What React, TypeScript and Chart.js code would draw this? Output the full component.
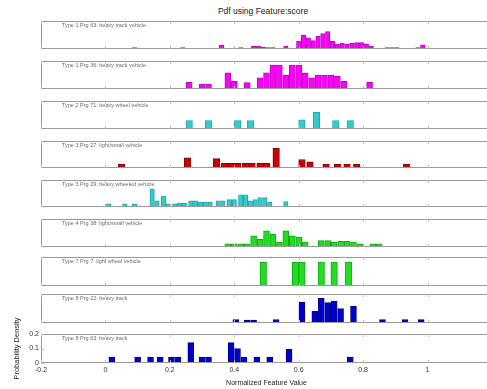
import React, { useEffect, useRef } from "react";
import { Chart, registerables } from "chart.js";
Chart.register(...registerables);

// ---------- data ----------
const TITLE = "Pdf using Feature:score";
const X_LABEL = "Normalized Feature Value";
const Y_LABEL = "Probability Density";
const xTicks = [-0.2, 0, 0.2, 0.4, 0.6, 0.8, 1, 1.2];
const yTicks = [0, 0.1, 0.2];

const panelLabels = [
  "Type 1 Prg 63: heavy track vehicle",
  "Type 1 Prg 36: heavy track vehicle",
  "Type 2 Prg 71: heavy wheel vehicle",
  "Type 3 Prg 27: light/small vehicle",
  "Type 3 Prg 29: heavy wheeled vehicle",
  "Type 4 Prg 38: light/small vehicle",
  "Type 7 Prg 7: light wheel vehicle",
  "Type 8 Prg 22: heavy track",
  "Type 8 Prg 63: heavy track",
];

const binWidths = [0.015, 0.02, 0.022, 0.022, 0.015, 0.02, 0.022, 0.02, 0.02];

const p1X = [0.09, 0.24, 0.36, 0.42, 0.46, 0.475, 0.49, 0.505, 0.52, 0.56, 0.6, 0.615, 0.63, 0.645, 0.66, 0.675, 0.69, 0.705, 0.72, 0.735, 0.75, 0.765, 0.78, 0.795, 0.81, 0.825, 0.875, 0.89, 0.905, 0.97, 0.985];
const p1Y = [0.01, 0.01, 0.028, 0.01, 0.02, 0.02, 0.012, 0.01, 0.01, 0.02, 0.055, 0.1, 0.08, 0.06, 0.09, 0.11, 0.125, 0.055, 0.035, 0.04, 0.035, 0.04, 0.045, 0.045, 0.035, 0.02, 0.01, 0.01, 0.01, 0.01, 0.03];

const p2X = [0.26, 0.3, 0.32, 0.38, 0.4, 0.44, 0.48, 0.5, 0.52, 0.54, 0.56, 0.58, 0.6, 0.62, 0.64, 0.66, 0.68, 0.7, 0.72, 0.74, 0.82];
const p2Y = [0.05, 0.035, 0.035, 0.115, 0.055, 0.045, 0.08, 0.115, 0.17, 0.17, 0.1, 0.17, 0.17, 0.115, 0.08, 0.1, 0.1, 0.1, 0.09, 0.055, 0.05];

const p3X = [0.26, 0.32, 0.41, 0.45, 0.61, 0.655, 0.715, 0.76];
const p3Y = [0.06, 0.06, 0.06, 0.06, 0.065, 0.12, 0.06, 0.06];

const p4X = [0.05, 0.255, 0.345, 0.37, 0.39, 0.41, 0.435, 0.455, 0.48, 0.5, 0.53, 0.61, 0.635, 0.685, 0.72, 0.75, 0.78, 0.935];
const p4Y = [0.028, 0.075, 0.07, 0.035, 0.035, 0.035, 0.035, 0.035, 0.035, 0.035, 0.145, 0.063, 0.045, 0.028, 0.028, 0.028, 0.028, 0.028];

const p5X = [0.01, 0.06, 0.09, 0.145, 0.16, 0.18, 0.195, 0.215, 0.23, 0.245, 0.265, 0.28, 0.295, 0.31, 0.325, 0.35, 0.365, 0.385, 0.4, 0.42, 0.435, 0.45, 0.465, 0.48, 0.495, 0.51, 0.56];
const p5Y = [0.023, 0.023, 0.023, 0.135, 0.045, 0.08, 0.023, 0.023, 0.028, 0.028, 0.045, 0.045, 0.035, 0.035, 0.035, 0.045, 0.045, 0.055, 0.055, 0.09, 0.09, 0.045, 0.055, 0.07, 0.07, 0.035, 0.04];

const p6X = [0.38, 0.4, 0.42, 0.44, 0.46, 0.48, 0.5, 0.52, 0.54, 0.56, 0.58, 0.6, 0.62, 0.67, 0.69, 0.71, 0.73, 0.75, 0.77, 0.79, 0.83, 0.85];
const p6Y = [0.023, 0.023, 0.023, 0.023, 0.08, 0.055, 0.115, 0.09, 0.035, 0.115, 0.08, 0.07, 0.035, 0.045, 0.045, 0.035, 0.04, 0.04, 0.035, 0.023, 0.023, 0.023];

const p7X = [0.49, 0.59, 0.61, 0.67, 0.71, 0.755];
const p7Y = [0.165, 0.165, 0.165, 0.165, 0.165, 0.165];

const p8X = [0.405, 0.44, 0.46, 0.53, 0.61, 0.65, 0.67, 0.69, 0.71, 0.73, 0.77, 0.86, 0.93, 0.98];
const p8Y = [0.023, 0.02, 0.02, 0.023, 0.145, 0.08, 0.17, 0.14, 0.15, 0.1, 0.115, 0.023, 0.023, 0.023];

const p9X = [0.02, 0.1, 0.14, 0.17, 0.205, 0.225, 0.265, 0.3, 0.32, 0.39, 0.41, 0.43, 0.47, 0.51, 0.57, 0.76];
const p9Y = [0.04, 0.04, 0.04, 0.04, 0.04, 0.04, 0.14, 0.04, 0.04, 0.14, 0.1, 0.04, 0.04, 0.04, 0.095, 0.04];

const seriesX = [p1X, p2X, p3X, p4X, p5X, p6X, p7X, p8X, p9X];
const seriesY = [p1Y, p2Y, p3Y, p4Y, p5Y, p6Y, p7Y, p8Y, p9Y];

// ---------- style / layout ----------
const faceColors = ["#ff00ff", "#ff00ff", "#33cccc", "#cc0000", "#33cccc", "#22dd22", "#22dd22", "#0000cc", "#0000cc"];
const edgeColors = ["#c000c0", "#c000c0", "#22aaaa", "#880000", "#22aaaa", "#11aa11", "#11aa11", "#000088", "#000088"];
const panelTops = [21, 61, 101, 141, 180, 219, 257, 294, 334];
const panelBottoms = [49, 89, 129, 168, 207, 247, 286, 323, 363];
const PLOT_LEFT = 41;
const PLOT_RIGHT = 492;
const X_MIN = -0.2;
const X_MAX = 1.2;
const PX_PER_UNIT = (PLOT_RIGHT - PLOT_LEFT) / (X_MAX - X_MIN);
const FONT = '"Liberation Sans", Arial, sans-serif';
const BOTTOM_CANVAS_TOP = 296;

Chart.defaults.font.family = FONT;

const boxPlugin = {
  id: "box",
  afterDraw(chart: any, _args: any, opts: any) {
    const { ctx, chartArea: a, scales } = chart;
    ctx.save();
    const l = Math.round(a.left), t = Math.round(a.top);
    const w = Math.round(a.right) - l, h = Math.round(a.bottom) - t;
    ctx.strokeStyle = "#9a9a9a";
    ctx.lineWidth = 1;
    ctx.strokeRect(l + 0.5, t + 0.5, w - 1, h - 1);
    ctx.strokeStyle = "#bdbdbd";
    ctx.beginPath();
    for (const v of xTicks) {
      const px = Math.round(scales.x.getPixelForValue(v)) + 0.5;
      ctx.moveTo(px, t + h);
      ctx.lineTo(px, t + h - 3);
      ctx.moveTo(px, t);
      ctx.lineTo(px, t + 3);
    }
    if (opts && opts.yTicks) {
      for (const v of yTicks) {
        const py = Math.round(scales.y.getPixelForValue(v)) + 0.5;
        ctx.moveTo(l, py);
        ctx.lineTo(l + 3, py);
      }
    }
    ctx.stroke();
    if (opts && opts.label) {
      ctx.fillStyle = "#6a6a6a";
      ctx.font = `5.5px ${FONT}`;
      ctx.textBaseline = "middle";
      ctx.textAlign = "left";
      ctx.fillText(opts.label, l + 21, t + 4);
    }
    ctx.restore();
  },
};

function Panel({ idx }: { idx: number }) {
  const ref = useRef<HTMLCanvasElement | null>(null);
  const isBottom = idx === 8;
  const top = isBottom ? BOTTOM_CANVAS_TOP : panelTops[idx] - 1;
  const height = isBottom ? 389 - top : panelBottoms[idx] - panelTops[idx] + 2;
  const left = isBottom ? 0 : PLOT_LEFT - 1;
  const width = PLOT_RIGHT + 1 - left;

  useEffect(() => {
    if (!ref.current) return;
    const data = seriesX[idx].map((x, i) => ({ x, y: seriesY[idx][i] }));
    const chart = new Chart(ref.current, {
      type: "bar",
      data: {
        datasets: [
          {
            data,
            backgroundColor: faceColors[idx],
            borderColor: edgeColors[idx],
            borderWidth: 1,
            barThickness: binWidths[idx] * PX_PER_UNIT * 0.92,
          } as any,
        ],
      },
      plugins: [boxPlugin as any],
      options: {
        animation: false,
        responsive: false,
        maintainAspectRatio: false,
        events: [],
        layout: isBottom
          ? { padding: { top: panelTops[idx] - BOTTOM_CANVAS_TOP, right: 1, left: 0, bottom: 0 } }
          : { padding: 1 },
        plugins: {
          legend: { display: false },
          tooltip: { enabled: false },
          title: { display: false },
          box: { label: panelLabels[idx], yTicks: isBottom },
        } as any,
        scales: {
          x: {
            type: "linear",
            min: X_MIN,
            max: X_MAX,
            offset: false,
            display: isBottom,
            grid: { display: false, drawTicks: false },
            border: { display: false },
            afterBuildTicks: (s: any) => {
              s.ticks = xTicks.map((v) => ({ value: v }));
            },
            afterFit: (s: any) => {
              if (isBottom) {
                s.height = 389 - panelBottoms[idx];
                s.paddingLeft = 0;
                s.paddingRight = 0;
              }
            },
            ticks: {
              font: { size: 7 },
              color: "#333",
              padding: 3,
              maxRotation: 0,
              autoSkip: false,
              callback: (v: any) => String(Math.round(Number(v) * 10) / 10),
            },
            title: {
              display: isBottom,
              text: X_LABEL,
              font: { size: 7 },
              color: "#222",
              padding: { top: 0, bottom: 2 },
            },
          },
          y: {
            type: "linear",
            min: 0,
            max: 0.2,
            display: isBottom,
            grid: { display: false, drawTicks: false },
            border: { display: false },
            afterBuildTicks: (s: any) => {
              s.ticks = yTicks.map((v) => ({ value: v }));
            },
            afterFit: (s: any) => {
              if (isBottom) {
                s.width = PLOT_LEFT;
                s.paddingTop = 0;
                s.paddingBottom = 0;
              }
            },
            ticks: {
              font: { size: 7 },
              color: "#333",
              padding: 2,
              callback: (v: any) => String(Math.round(Number(v) * 10) / 10),
            },
            title: {
              display: isBottom,
              text: Y_LABEL,
              font: { size: 7.5 },
              color: "#222",
              padding: { top: 12, bottom: 0 },
            },
          },
        },
      } as any,
    });
    return () => chart.destroy();
  }, [idx]);

  return (
    <canvas
      ref={ref}
      width={width}
      height={height}
      style={{ position: "absolute", left, top, width, height, display: "block" }}
    />
  );
}

export default function App() {
  return (
    <div
      style={{
        position: "fixed",
        left: 0,
        top: 0,
        width: 487,
        height: 389,
        overflow: "hidden",
        background: "#fff",
      }}
    >
      <div
        style={{
          position: "absolute",
          left: 0,
          top: 6,
          width: 526,
          textAlign: "center",
          fontFamily: FONT,
          fontSize: "8.5px",
          lineHeight: "11px",
          color: "#222",
          whiteSpace: "nowrap",
        }}
      >
        {TITLE}
      </div>
      {panelLabels.map((_, i) => (
        <Panel key={i} idx={i} />
      ))}
    </div>
  );
}
